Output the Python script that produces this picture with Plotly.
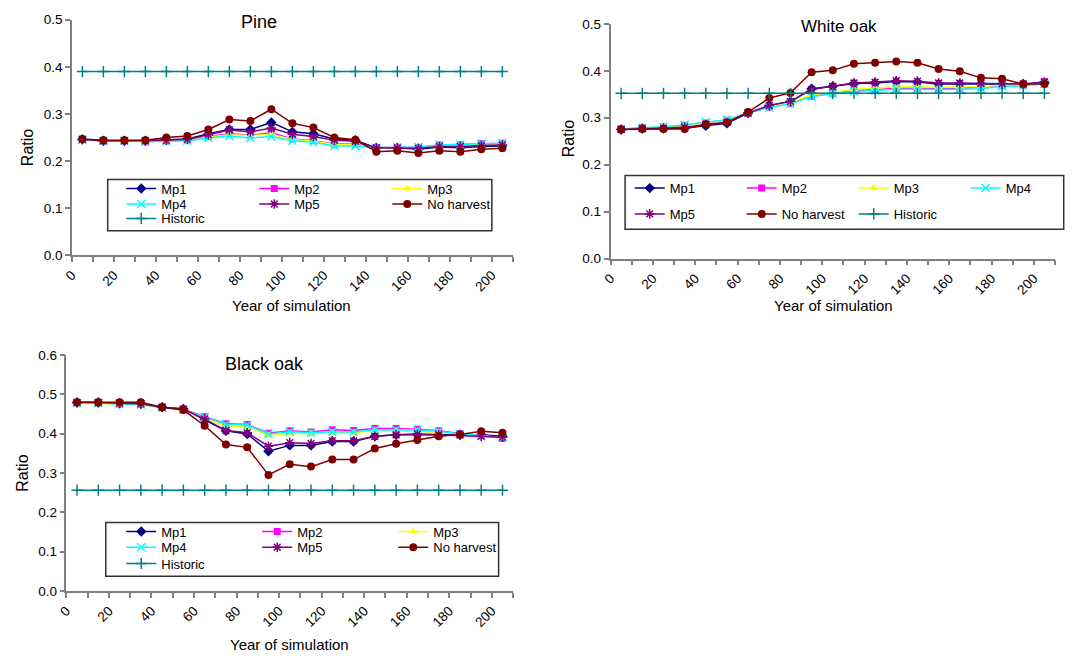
import plotly.graph_objects as go

W, H = 1081, 666
FONT = "Liberation Sans, Arial, sans-serif"

# ---------------- data ----------------
years = [5, 15, 25, 35, 45, 55, 65, 75, 85, 95, 105,
         115, 125, 135, 145, 155, 165, 175, 185, 195, 205]

series_names = ["Mp1", "Mp2", "Mp3", "Mp4", "Mp5", "No harvest", "Historic"]

pine_mp1 = [0.246, 0.243, 0.243, 0.243, 0.245, 0.247, 0.258, 0.267, 0.267, 0.282, 0.262,
            0.258, 0.247, 0.244, 0.228, 0.228, 0.225, 0.230, 0.228, 0.231, 0.232]
pine_mp2 = [0.246, 0.243, 0.243, 0.242, 0.243, 0.245, 0.252, 0.258, 0.255, 0.260, 0.247,
            0.243, 0.236, 0.236, 0.229, 0.229, 0.229, 0.234, 0.235, 0.237, 0.238]
pine_mp3 = [0.245, 0.243, 0.243, 0.241, 0.242, 0.243, 0.251, 0.256, 0.254, 0.257, 0.246,
            0.242, 0.235, 0.235, 0.228, 0.229, 0.229, 0.233, 0.234, 0.236, 0.237]
pine_mp4 = [0.245, 0.243, 0.243, 0.241, 0.242, 0.243, 0.249, 0.253, 0.249, 0.252, 0.243,
            0.240, 0.232, 0.232, 0.228, 0.229, 0.230, 0.234, 0.235, 0.237, 0.238]
pine_mp5 = [0.246, 0.243, 0.243, 0.243, 0.244, 0.246, 0.256, 0.266, 0.262, 0.270, 0.257,
            0.252, 0.244, 0.242, 0.228, 0.228, 0.227, 0.231, 0.231, 0.233, 0.234]
pine_noh = [0.247, 0.244, 0.244, 0.244, 0.250, 0.253, 0.267, 0.288, 0.285, 0.310, 0.280,
            0.271, 0.250, 0.245, 0.220, 0.222, 0.217, 0.222, 0.220, 0.225, 0.227]
pine_hist = [0.39, 0.39, 0.39, 0.39, 0.39, 0.39, 0.39, 0.39, 0.39, 0.39, 0.39,
             0.39, 0.39, 0.39, 0.39, 0.39, 0.39, 0.39, 0.39, 0.39, 0.39]

wo_mp1 = [0.275, 0.277, 0.277, 0.278, 0.283, 0.288, 0.310, 0.326, 0.334, 0.362, 0.367,
          0.373, 0.374, 0.377, 0.376, 0.372, 0.372, 0.372, 0.372, 0.372, 0.374]
wo_mp2 = [0.276, 0.278, 0.280, 0.284, 0.290, 0.295, 0.310, 0.323, 0.331, 0.346, 0.352,
          0.358, 0.360, 0.363, 0.363, 0.362, 0.363, 0.365, 0.368, 0.370, 0.377]
wo_mp3 = [0.276, 0.278, 0.280, 0.284, 0.290, 0.295, 0.311, 0.324, 0.332, 0.349, 0.354,
          0.361, 0.363, 0.366, 0.366, 0.365, 0.366, 0.366, 0.369, 0.370, 0.373]
wo_mp4 = [0.276, 0.278, 0.281, 0.285, 0.291, 0.296, 0.310, 0.322, 0.330, 0.345, 0.351,
          0.356, 0.358, 0.361, 0.361, 0.360, 0.361, 0.362, 0.367, 0.368, 0.372]
wo_mp5 = [0.275, 0.277, 0.278, 0.280, 0.285, 0.290, 0.310, 0.326, 0.335, 0.360, 0.367,
          0.374, 0.376, 0.379, 0.378, 0.374, 0.374, 0.373, 0.373, 0.372, 0.376]
wo_noh = [0.275, 0.276, 0.276, 0.276, 0.286, 0.290, 0.312, 0.342, 0.353, 0.397, 0.401,
          0.415, 0.417, 0.420, 0.417, 0.404, 0.399, 0.385, 0.383, 0.372, 0.372]
wo_hist = [0.352, 0.352, 0.352, 0.352, 0.352, 0.352, 0.352, 0.352, 0.352, 0.352, 0.352,
           0.352, 0.352, 0.352, 0.352, 0.352, 0.352, 0.352, 0.352, 0.352, 0.352]

bo_mp1 = [0.479, 0.479, 0.477, 0.476, 0.467, 0.463, 0.435, 0.407, 0.399, 0.355, 0.370,
          0.370, 0.380, 0.380, 0.393, 0.397, 0.398, 0.397, 0.397, 0.397, 0.393]
bo_mp2 = [0.479, 0.479, 0.476, 0.475, 0.467, 0.462, 0.443, 0.425, 0.423, 0.401, 0.407,
          0.404, 0.410, 0.408, 0.413, 0.413, 0.411, 0.407, 0.400, 0.395, 0.388]
bo_mp3 = [0.477, 0.477, 0.474, 0.473, 0.465, 0.460, 0.439, 0.418, 0.417, 0.395, 0.400,
          0.400, 0.402, 0.402, 0.407, 0.407, 0.406, 0.403, 0.398, 0.394, 0.389]
bo_mp4 = [0.478, 0.478, 0.475, 0.474, 0.466, 0.461, 0.442, 0.424, 0.422, 0.399, 0.405,
          0.402, 0.405, 0.404, 0.410, 0.410, 0.409, 0.406, 0.399, 0.395, 0.390]
bo_mp5 = [0.479, 0.479, 0.477, 0.476, 0.467, 0.462, 0.437, 0.408, 0.402, 0.368, 0.377,
          0.375, 0.382, 0.382, 0.393, 0.397, 0.399, 0.397, 0.396, 0.393, 0.391]
bo_noh = [0.480, 0.480, 0.480, 0.480, 0.467, 0.460, 0.420, 0.372, 0.365, 0.295, 0.322,
          0.316, 0.334, 0.334, 0.362, 0.374, 0.384, 0.393, 0.398, 0.406, 0.402]
bo_hist = [0.256, 0.256, 0.256, 0.256, 0.256, 0.256, 0.256, 0.256, 0.256, 0.256, 0.256,
           0.256, 0.256, 0.256, 0.256, 0.256, 0.256, 0.256, 0.256, 0.256, 0.256]

# ---------------- styles ----------------
colors = ["#000080", "#FF00FF", "#FFFF00", "#00FFFF", "#800080", "#800000", "#008080"]
symbols = ["diamond", "square", "triangle-up", "x-thin", "asterisk", "circle", "cross-thin"]
msizes = [8, 7, 8, 8, 8, 8, 8]


def px(x):
    return x / W


def py(y):
    return 1 - y / H


panels = [
    dict(title="Pine", data=[pine_mp1, pine_mp2, pine_mp3, pine_mp4, pine_mp5, pine_noh, pine_hist],
         xdom=(65, 520.7), ydom=(13, 254), ymax=0.5, tpos=(258, 15), tsize=18,
         rpos=(19, 144), ypos=(292, 305),
         box=(102, 176.5, 499, 229), rows=[[0, 1, 2], [3, 4, 5], [6]],
         row_y=[185.8, 201.6, 216.3], col_x=156, col_dx=133),
    dict(title="White oak", data=[wo_mp1, wo_mp2, wo_mp3, wo_mp4, wo_mp5, wo_noh, wo_hist],
         xdom=(621.7, 1081), ydom=(17.3, 257.3), ymax=0.5, tpos=(857.7, 20), tsize=17,
         rpos=(579, 135), ypos=(851.7, 305),
         box=(636.7, 172.5, 1090, 227.3), rows=[[0, 1, 2, 3], [4, 5, 6]],
         row_y=[185.3, 211.7], col_x=681.5, col_dx=112),
    dict(title="Black oak", data=[bo_mp1, bo_mp2, bo_mp3, bo_mp4, bo_mp5, bo_noh, bo_hist],
         xdom=(59.3, 521), ydom=(356, 597.3), ymax=0.6, tpos=(264, 365), tsize=18,
         rpos=(14, 477), ypos=(290, 652.7),
         box=(100, 527.3, 506, 582.3), rows=[[0, 1, 2], [3, 4, 5], [6]],
         row_y=[536.7, 552.7, 569.3], col_x=156, col_dx=136),
]

fig = go.Figure()
layout = dict(
    width=W, height=H, margin=dict(l=0, r=0, t=0, b=0),
    paper_bgcolor="white", plot_bgcolor="white",
    font=dict(family=FONT, size=13, color="black"),
    annotations=[], shapes=[],
)

axis_common = dict(showline=True, linecolor="#808080", linewidth=1.5, ticks="outside",
                   ticklen=5, tickcolor="#808080", tickwidth=1.5, showgrid=False,
                   zeroline=False, tickfont=dict(family=FONT, size=13.5, color="black"))

legend_idx = 0
for p_i, p in enumerate(panels):
    sfx = "" if p_i == 0 else str(p_i + 1)
    xref, yref = "x" + sfx, "y" + sfx

    # each legend row is its own horizontal legend with fixed-width entries
    row_of = {}
    last_in_row = set()
    for r_i, row in enumerate(p["rows"]):
        legend_idx += 1
        lname = "legend" if legend_idx == 1 else "legend%d" % legend_idx
        for s in row:
            row_of[s] = lname
        last_in_row.add(row[-1])
        layout[lname] = dict(
            orientation="h", x=px(p["col_x"] - 40), y=py(p["row_y"][r_i]),
            xanchor="left", yanchor="middle", bgcolor="rgba(0,0,0,0)", borderwidth=0,
            entrywidth=p["col_dx"] - 45, entrywidthmode="pixels",
            font=dict(family=FONT, size=13, color="black"), itemwidth=30,
            traceorder="normal",
        )

    for s_i, name in enumerate(series_names):
        fig.add_trace(go.Scatter(
            x=years, y=p["data"][s_i], name=name, mode="lines+markers",
            xaxis=xref, yaxis=yref, legend=row_of[s_i],
            legendwidth=70 if s_i in last_in_row else None,
            line=dict(color=colors[s_i], width=1.5),
            marker=dict(symbol=symbols[s_i], size=msizes[s_i], color=colors[s_i],
                        line=dict(color=colors[s_i], width=1.5 if s_i in (3, 4, 6) else 0)),
        ))

    layout["xaxis" + sfx] = dict(
        axis_common, domain=[px(p["xdom"][0]), min(1.0, px(p["xdom"][1]))],
        anchor=yref, range=[0, 210], tick0=0, dtick=20, tickangle=-45,
        minor=dict(dtick=10, ticks="outside", ticklen=5, tickcolor="#808080", tickwidth=1.5),
    )
    layout["yaxis" + sfx] = dict(
        axis_common, domain=[py(p["ydom"][1]), py(p["ydom"][0])],
        anchor=xref, range=[0, p["ymax"]], tick0=0, dtick=0.1, tickformat=".1f",
    )

    layout["annotations"] += [
        dict(text=p["title"], x=px(p["tpos"][0]), y=py(p["tpos"][1]), xref="paper", yref="paper",
             xanchor="center", yanchor="middle", showarrow=False,
             font=dict(family=FONT, size=p["tsize"], color="black")),
        dict(text="Ratio", x=px(p["rpos"][0]), y=py(p["rpos"][1]), xref="paper", yref="paper",
             xanchor="center", yanchor="middle", showarrow=False, textangle=-90,
             font=dict(family=FONT, size=16, color="black")),
        dict(text="Year of simulation", x=px(p["ypos"][0]), y=py(p["ypos"][1]),
             xref="paper", yref="paper", xanchor="center", yanchor="middle", showarrow=False,
             font=dict(family=FONT, size=15, color="black")),
    ]
    # frame around the legend rows
    bx0, by0, bx1, by1 = p["box"]
    layout["shapes"].append(dict(type="rect", xref="paper", yref="paper",
                                 x0=px(bx0), x1=px(bx1), y0=py(by1), y1=py(by0),
                                 line=dict(color="#333333", width=1.5), layer="below"))

fig.update_layout(**layout)
fig.write_html("out.html")
